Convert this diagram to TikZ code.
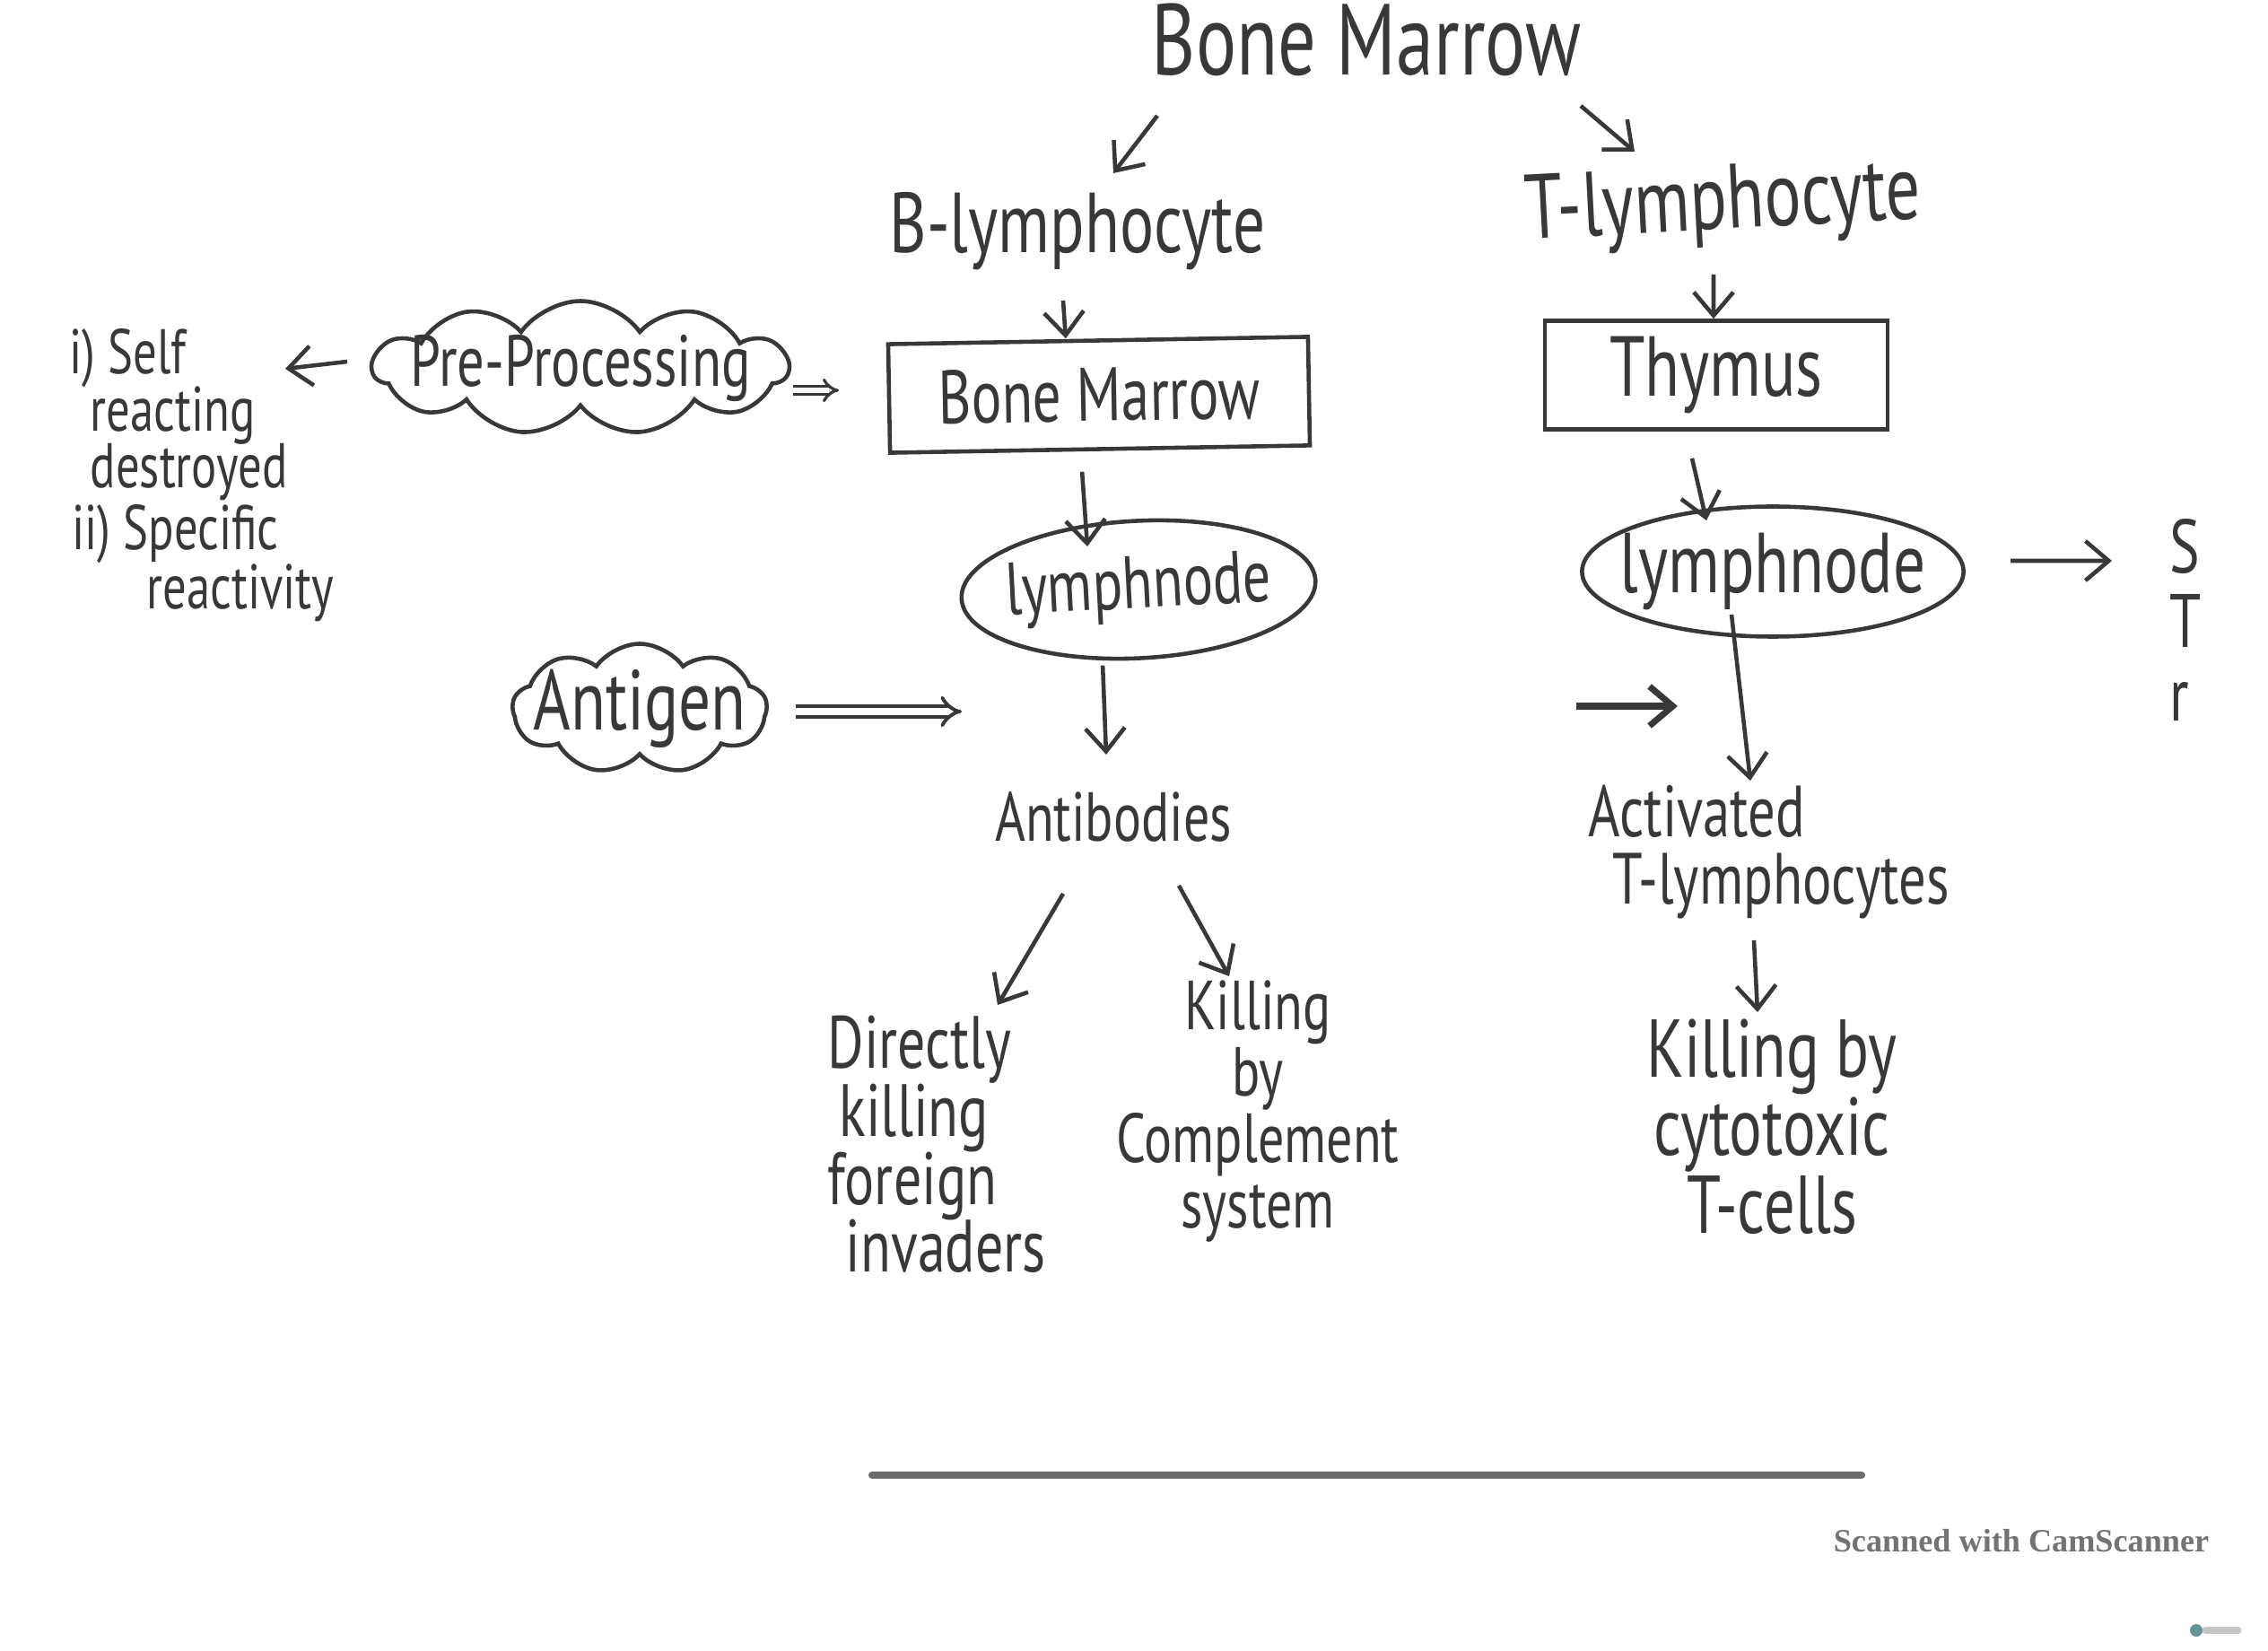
\documentclass[tikz,border=0pt]{standalone}
\usepackage{fontspec}
\usetikzlibrary{arrows.meta,shapes.geometric,shapes.symbols}
\newfontfamily\handfont[FakeStretch=0.75]{PT Sans}
\newfontfamily\scanfont{Liberation Serif}
\definecolor{ink}{gray}{0.22}
\definecolor{rulegray}{gray}{0.42}
\definecolor{scangray}{gray}{0.45}
\lineskiplimit=-30pt

\begin{document}
\begin{tikzpicture}[
	fs/.style args={#1/#2}{font=\handfont\fontsize{#1}{#2}\selectfont},
	txt/.style={text=ink, inner sep=0pt},
	ln/.style={draw=ink, line width=1.3pt},
	arr/.style={ln, -{Straight Barb[length=2.6mm,width=4.4mm]}},
	dbl/.style={draw=ink, line width=1.1pt, double, double distance=2.2pt, -{Implies[length=3.5mm,width=7mm]}},
	box/.style={ln, text=ink, rectangle, inner sep=0pt},
	blob/.style={ln, text=ink, cloud, cloud puffs=11, cloud puff arc=110, cloud ignores aspect},
	oval/.style={ln, text=ink, ellipse, inner sep=-0.1cm}
]
	\useasboundingbox [fill=white] (0, 0) rectangle (25.28, -18.40);

	\node (title) at (15.23, -0.84) [txt, anchor=base, fs=32pt/32pt] {Bone Marrow};
	\node (blym) at (12.01, -2.82) [txt, anchor=base, fs=27pt/27pt] {B-lymphocyte};
	\node (tlym) at (19.22, -2.55) [txt, anchor=base, rotate=3, fs=29pt/29pt] {T-lymphocyte};

	\node (bmbox) at (12.25, -4.40) [box, rotate=1, minimum width=4.68cm, minimum height=1.21cm, fs=24pt/24pt] {Bone Marrow};
	\node (thbox) at (19.13, -4.18) [box, minimum width=3.82cm, minimum height=1.21cm, fs=27pt/27pt] {Thymus};
	\node (pre) at (6.47, -4.10) [blob, inner sep=-0.22cm, minimum width=4.63cm, minimum height=1.49cm, fs=23pt/23pt] {Pre-Processing};

	\node (selfi) at (0.77, -3.66) [txt, anchor=north west, align=left, fs=20pt/18pt] {i) Self\\\hspace{0.23cm}reacting\\\hspace{0.23cm}destroyed};
	\node (selfii) at (0.80, -5.62) [txt, anchor=north west, align=left, fs=20pt/18.7pt] {ii) Specific\\\hspace{0.83cm}reactivity};

	\node (lnb) at (12.69, -6.57) [oval, rotate=3, minimum width=3.95cm, minimum height=1.53cm, fs=23.5pt/23.5pt] {lymphnode};
	\node (lnt) at (19.76, -6.37) [oval, inner sep=-0.2cm, minimum width=4.23cm, minimum height=1.45cm, fs=27pt/27pt] {lymphnode};
	\node (strip) at (24.18, -5.78) [txt, anchor=north west, align=left, fs=24pt/23.5pt] {S\\T\\r};

	\node (ant) at (7.13, -7.90) [blob, cloud puffs=9, inner sep=-0.17cm, minimum width=2.82cm, minimum height=1.45cm, fs=27pt/27pt] {Antigen};
	\coordinate (bin) at (10.72, -7.93);
	\coordinate (tin) at (17.57, -7.87);
	\coordinate (tout) at (18.70, -7.87);

	\node (abs) at (12.41, -9.38) [txt, anchor=base, fs=22pt/22pt] {Antibodies};
	\node (act) at (17.70, -8.74) [txt, anchor=north west, align=left, fs=23pt/21.5pt] {Activated\\\hspace{0.27cm}T-lymphocytes};

	\node (dir) at (9.22, -11.31) [txt, anchor=north west, align=left, fs=23.5pt/21.6pt] {Directly\\\hspace{0.13cm}killing\\foreign\\\hspace{0.2cm}invaders};
	\node (kcs) at (14.02, -10.92) [txt, anchor=north, align=center, fs=22pt/21pt] {Killing\\by\\Complement\\system};
	\node (cyt) at (19.75, -11.35) [txt, anchor=north, align=center, fs=26pt/24.7pt] {Killing by\\cytotoxic\\T-cells};

	\draw [arr] ([shift={(-2.33,-0.45)}]title.base) -- ([shift={(0.40,0.89)}]blym.base);
	\draw [arr] ([shift={(2.39,-0.34)}]title.base) -- ([shift={(-1.00,0.86)}]tlym.base);
	\draw [arr] ([shift={(-0.16,-0.53)}]blym.base) -- ([xshift=-3.6mm]bmbox.north);
	\draw [arr] ([shift={(-0.12,-0.51)}]tlym.base) -- ([xshift=-0.3mm]thbox.north);
	\draw [arr] ([shift={(-2.60,0.07)}]pre.center) -- ([shift={(2.41,-0.45)}]selfi.north west);
	\draw [dbl, line width=0.9pt, double distance=1.6pt, -{Implies[length=2.2mm,width=4.5mm]}] ([shift={(2.37,-0.25)}]pre.center) -- ([shift={(-2.90,0.05)}]bmbox.center);
	\draw [arr] ([shift={(-0.20,-0.23)}]bmbox.south) -- ([shift={(-0.57,0.48)}]lnb.center);
	\draw [arr] ([shift={(-0.27,-0.30)}]thbox.south) -- ([shift={(-0.74,0.57)}]lnt.center);
	\draw [arr] ([shift={(2.65,0.12)}]lnt.center) -- ([shift={(-0.64,-0.47)}]strip.north west);
	\draw [dbl] ([shift={(1.74,-0.03)}]ant.center) -- (bin);
	\draw [arr] ([shift={(-0.44,-0.06)}]lnb.south) -- ([shift={(-0.08,0.97)}]abs.base);
	\draw [arr, line width=2pt] (tin) -- (tout);
	\draw [arr] ([shift={(-0.46,-0.48)}]lnt.center) -- ([shift={(1.81,0.04)}]act.north west);
	\draw [arr] ([shift={(1.85,-1.74)}]act.north west) -- ([shift={(-0.16,0.07)}]cyt.north);
	\draw [arr] ([shift={(-0.56,-0.58)}]abs.base) -- ([shift={(1.90,0.11)}]dir.north west);
	\draw [arr] ([shift={(0.73,-0.49)}]abs.base) -- ([shift={(-0.32,0.04)}]kcs.north);

	\draw [rulegray, line width=2.3pt, line cap=round] (9.72, -16.44) -- (20.75, -16.44);
	\node (scan) at (22.53, -17.17) [text=scangray, inner sep=0pt, font=\scanfont\bfseries\fontsize{10.3pt}{12pt}\selectfont] {Scanned with CamScanner};
	\fill [teal!60!black, opacity=0.6] (24.48, -18.17) circle (0.07);
	\draw [gray!45, line width=2pt, line cap=round] (24.58, -18.17) -- (24.95, -18.17);
\end{tikzpicture}
\end{document}
